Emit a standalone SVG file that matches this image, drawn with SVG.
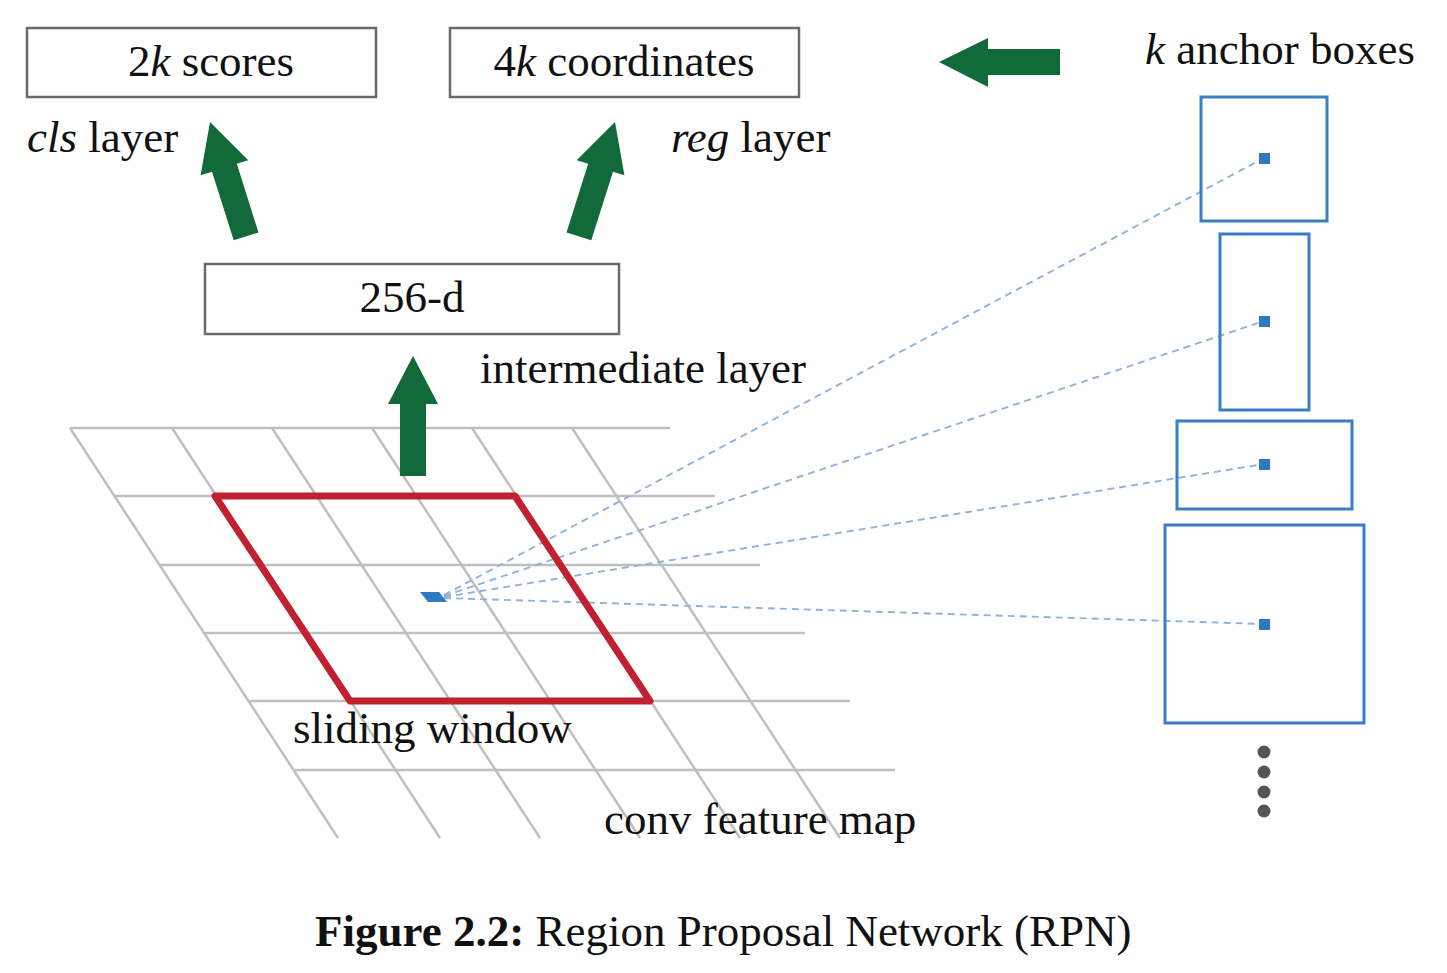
<svg xmlns="http://www.w3.org/2000/svg" width="1447" height="973" viewBox="0 0 1447 973">
<defs>
<style>
.t{font-family:"Liberation Serif","Times New Roman",serif;font-size:45px;fill:#111}
.box{fill:#fff;stroke:#6a6a6a;stroke-width:2.5}
.grid{stroke:#bfbfbf;stroke-width:2.5;fill:none}
.arrow{fill:#12693a}
.anc{fill:none;stroke:#3a7fc4;stroke-width:3}
.ctr{fill:#2f78c2}
.dash{stroke:#8cb4dc;stroke-width:1.9;stroke-dasharray:7 5;fill:none}
.dot{fill:#555}
</style>
<polygon id="uparrow" points="0,0 25,48 13,48 13,120 -13,120 -13,48 -25,48"/>
</defs>
<rect width="1447" height="973" fill="#fff"/>

<g id="featuremap">
<g class="grid">
<line x1="70" y1="428" x2="670" y2="428"/>
<line x1="115" y1="496" x2="715" y2="496"/>
<line x1="160" y1="565" x2="760" y2="565"/>
<line x1="205" y1="633" x2="805" y2="633"/>
<line x1="250" y1="701" x2="850" y2="701"/>
<line x1="295" y1="770" x2="895" y2="770"/>
<line x1="70" y1="428" x2="338" y2="838"/>
<line x1="172" y1="428" x2="440" y2="838"/>
<line x1="272" y1="428" x2="540" y2="838"/>
<line x1="372" y1="428" x2="640" y2="838"/>
<line x1="472" y1="428" x2="740" y2="838"/>
<line x1="572" y1="428" x2="840" y2="838"/>
</g>
</g>

<g id="connectors">
<line class="dash" x1="444" y1="595" x2="1264" y2="158"/>
<line class="dash" x1="444" y1="596" x2="1264" y2="321"/>
<line class="dash" x1="444" y1="597" x2="1264" y2="464"/>
<line class="dash" x1="444" y1="598" x2="1264" y2="624"/>
<use href="#uparrow" class="arrow" transform="translate(413,356)"/>
<use href="#uparrow" class="arrow" transform="translate(210,122) rotate(-17.5)"/>
<use href="#uparrow" class="arrow" transform="translate(615,122) rotate(17.5)"/>
<polygon class="arrow" points="939,62 988,38 988,49 1060,49 1060,75 988,75 988,87"/>
</g>

<g id="slidingwindow">
<polygon points="215,496 515,496 650,701 350,701" fill="none" stroke="#c0202f" stroke-width="7" stroke-linejoin="round"/>
<polygon points="420,592 439,592 447,602 428,602" class="ctr"/>
</g>

<g id="scores">
<rect class="box" x="27" y="28" width="349" height="69"/>
<text class="t" x="211" y="76" text-anchor="middle">2<tspan font-style="italic">k</tspan> scores</text>
</g>
<g id="coordinates">
<rect class="box" x="450" y="28" width="349" height="69"/>
<text class="t" x="624" y="76" text-anchor="middle">4<tspan font-style="italic">k</tspan> coordinates</text>
</g>
<g id="intermediate">
<rect class="box" x="205" y="264" width="414" height="70"/>
<text class="t" x="412" y="312" text-anchor="middle">256-d</text>
</g>

<g id="labels">
<text class="t" x="27" y="152"><tspan font-style="italic">cls</tspan> layer</text>
<text class="t" x="671" y="152"><tspan font-style="italic">reg</tspan> layer</text>
<text class="t" x="1145" y="64"><tspan font-style="italic">k</tspan> anchor boxes</text>
<text class="t" x="480" y="383">intermediate layer</text>
<text class="t" x="293" y="743">sliding window</text>
<text class="t" x="604" y="834">conv feature map</text>
</g>

<g id="anchors">
<rect class="anc" x="1201" y="97" width="126" height="124"/>
<rect class="anc" x="1220" y="234" width="89" height="176"/>
<rect class="anc" x="1177" y="421" width="175" height="88"/>
<rect class="anc" x="1165" y="525" width="199" height="198"/>
<rect class="ctr" x="1259" y="153" width="11" height="11"/>
<rect class="ctr" x="1259" y="316" width="11" height="11"/>
<rect class="ctr" x="1259" y="459" width="11" height="11"/>
<rect class="ctr" x="1259" y="619" width="11" height="11"/>
<circle class="dot" cx="1264" cy="752" r="6.5"/>
<circle class="dot" cx="1264" cy="772" r="6.5"/>
<circle class="dot" cx="1264" cy="792" r="6.5"/>
<circle class="dot" cx="1264" cy="811" r="6.5"/>
</g>

<g id="caption">
<text class="t" x="315" y="946" font-size="44.7"><tspan font-weight="bold">Figure 2.2:</tspan> Region Proposal Network (RPN)</text>
</g>
</svg>
